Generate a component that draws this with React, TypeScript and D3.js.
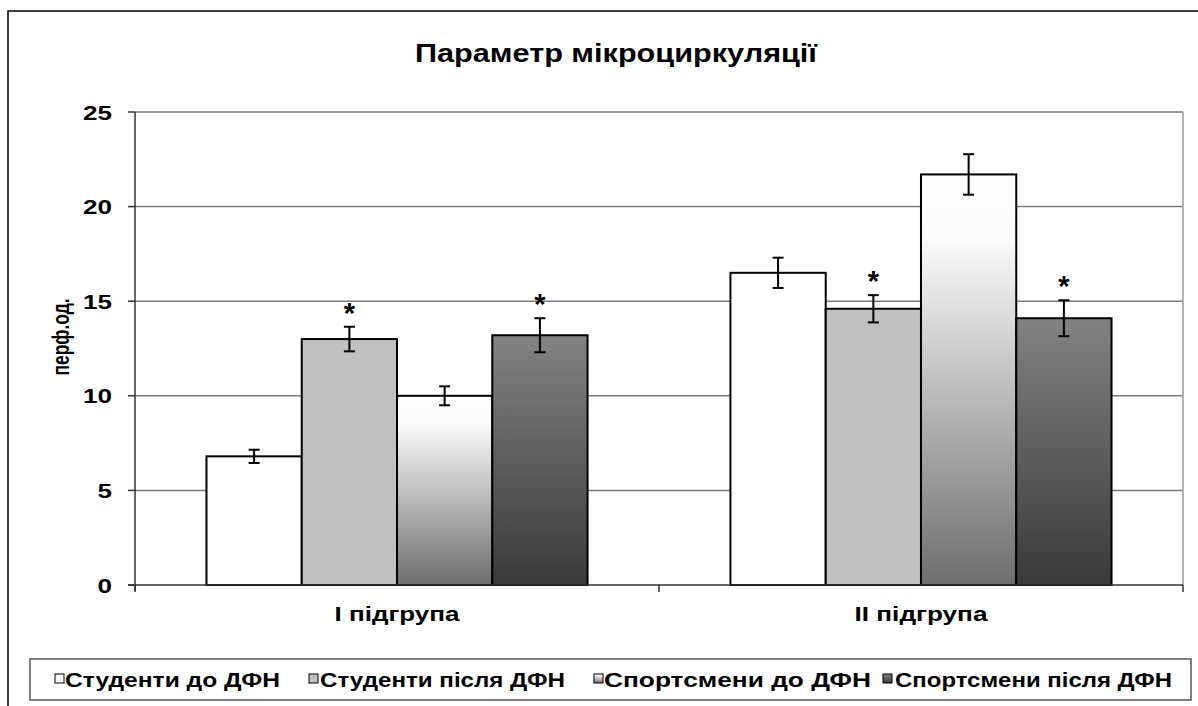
import React from "react";
import * as d3 from "d3";

const categories = ["I підгрупа", "II підгрупа"];
const seriesNames = ["Студенти до ДФН", "Студенти після ДФН", "Спортсмени до ДФН", "Спортсмени після ДФН"];
const studentsBefore = [6.8, 16.5];
const studentsAfter = [13.0, 14.6];
const athletesBefore = [10.0, 21.7];
const athletesAfter = [13.2, 14.1];
const studentsBeforeErr = [0.35, 0.8];
const studentsAfterErr = [0.65, 0.72];
const athletesBeforeErr = [0.5, 1.07];
const athletesAfterErr = [0.9, 0.95];
const studentsAfterSig = [true, true];
const athletesAfterSig = [true, true];
const yTicks = [0, 5, 10, 15, 20, 25];

const FONT = "'Liberation Sans', Arial, sans-serif";

export default function App() {
  const W = 1198, H = 706;
  const plotL = 135, plotR = 1183, plotT = 112, plotB = 585;
  const y = d3.scaleLinear().domain([0, 25]).range([plotB, plotT]);
  const x0 = d3.scaleBand().domain(categories).range([plotL, plotR]).paddingInner(0.2727).paddingOuter(0.1364);
  const x1 = d3.scaleBand().domain(seriesNames).range([0, x0.bandwidth()]);

  const values = [studentsBefore, studentsAfter, athletesBefore, athletesAfter];
  const errs = [studentsBeforeErr, studentsAfterErr, athletesBeforeErr, athletesAfterErr];
  const sigs = [null, studentsAfterSig, null, athletesAfterSig];
  const fills = ["#ffffff", "#c0c0c0", "url(#g3)", "url(#g4)"];

  const legendItems = [
    { sq: 55, tx: 65, tw: 215 },
    { sq: 309, tx: 320, tw: 245 },
    { sq: 594, tx: 604, tw: 267 },
    { sq: 883, tx: 895, tw: 277 },
  ];

  return (
    <svg width={W} height={H} style={{ position: "absolute", left: 0, top: 0, background: "#fff" }} fontFamily={FONT}>
      <defs>
        <linearGradient id="g3" x1="0" y1="0" x2="0" y2="1">
          <stop offset="0" stopColor="#ffffff" />
          <stop offset="0.15" stopColor="#fbfbfb" />
          <stop offset="1" stopColor="#6e6e6e" />
        </linearGradient>
        <linearGradient id="g4" x1="0" y1="0" x2="0" y2="1">
          <stop offset="0" stopColor="#828282" />
          <stop offset="1" stopColor="#3a3a3a" />
        </linearGradient>
      </defs>
      <rect x={8} y={11} width={W + 20} height={H + 20} fill="#fff" stroke="#000" strokeWidth={1.5} />

      <text x={616} y={62} textAnchor="middle" fontSize={25} fontWeight="bold" textLength={402} lengthAdjust="spacingAndGlyphs">
        Параметр мікроциркуляції
      </text>

      {/* gridlines */}
      {yTicks.filter((t) => t > 0).map((t) => (
        <line key={t} x1={plotL} x2={plotR} y1={y(t)} y2={y(t)} stroke="#7a7a7a" strokeWidth={1.5} />
      ))}
      <line x1={plotR} x2={plotR} y1={plotT} y2={plotB} stroke="#9a9a9a" strokeWidth={1.5} />

      {/* bars */}
      {categories.map((c, ci) => (
        <g key={c} transform={`translate(${x0(c)},0)`}>
          {seriesNames.map((s, si) => {
            const v = values[si][ci];
            const bx = x1(s)!;
            const bw = x1.bandwidth();
            return (
              <rect key={s} x={bx} y={y(v)} width={bw} height={y(0) - y(v)} fill={fills[si]} stroke="#000" strokeWidth={2} />
            );
          })}
          {seriesNames.map((s, si) => {
            const v = values[si][ci];
            const e = errs[si][ci];
            const cx = x1(s)! + x1.bandwidth() / 2;
            const top = y(v + e), bot = y(v - e);
            const sig = sigs[si] && sigs[si]![ci];
            return (
              <g key={s + "e"}>
                <line x1={cx} x2={cx} y1={top} y2={bot} stroke="#000" strokeWidth={2} />
                <line x1={cx - 5.5} x2={cx + 5.5} y1={top} y2={top} stroke="#000" strokeWidth={2} />
                <line x1={cx - 5.5} x2={cx + 5.5} y1={bot} y2={bot} stroke="#000" strokeWidth={2} />
                {sig && (
                  <text x={cx} y={top - 21 + 17} textAnchor="middle" fontSize={29} fontWeight="bold">*</text>
                )}
              </g>
            );
          })}
        </g>
      ))}

      {/* axes */}
      <line x1={plotL} x2={plotL} y1={plotT} y2={plotB + 6} stroke="#333" strokeWidth={1.5} />
      <line x1={plotL - 7} x2={plotR} y1={plotB} y2={plotB} stroke="#333" strokeWidth={1.5} />
      {yTicks.map((t) => (
        <g key={t}>
          <line x1={plotL - 7} x2={plotL} y1={y(t)} y2={y(t)} stroke="#333" strokeWidth={1.5} />
          <text x={112} y={y(t) + 7.5} textAnchor="end" fontSize={20} fontWeight="bold" textLength={String(t).length * 14.5} lengthAdjust="spacingAndGlyphs">
            {t}
          </text>
        </g>
      ))}
      {[plotL, (x0(categories[1])! - x0.step() * 0.2727 / 2), plotR].map((tx, i) => (
        <line key={i} x1={tx} x2={tx} y1={plotB} y2={plotB + 7} stroke="#333" strokeWidth={1.5} />
      ))}
      {categories.map((c, i) => (
        <text key={c} x={x0(c)! + x0.bandwidth() / 2} y={621} textAnchor="middle" fontSize={20} fontWeight="bold" textLength={i === 0 ? 125 : 133} lengthAdjust="spacingAndGlyphs">
          {c}
        </text>
      ))}
      <text transform={`translate(69,337) rotate(-90)`} textAnchor="middle" fontSize={24} fontWeight="bold" textLength={77} lengthAdjust="spacingAndGlyphs">
        перф.од.
      </text>

      {/* legend */}
      <rect x={30} y={659} width={1161} height={41} fill="#fff" stroke="#555" strokeWidth={1.5} />
      {seriesNames.map((s, i) => {
        const it = legendItems[i];
        return (
          <g key={s}>
            <rect x={it.sq} y={674} width={9} height={9} fill={fills[i]} stroke="#000" strokeWidth={1} />
            <text x={it.tx} y={686.5} fontSize={20} fontWeight="bold" textLength={it.tw} lengthAdjust="spacingAndGlyphs">
              {s}
            </text>
          </g>
        );
      })}
    </svg>
  );
}
